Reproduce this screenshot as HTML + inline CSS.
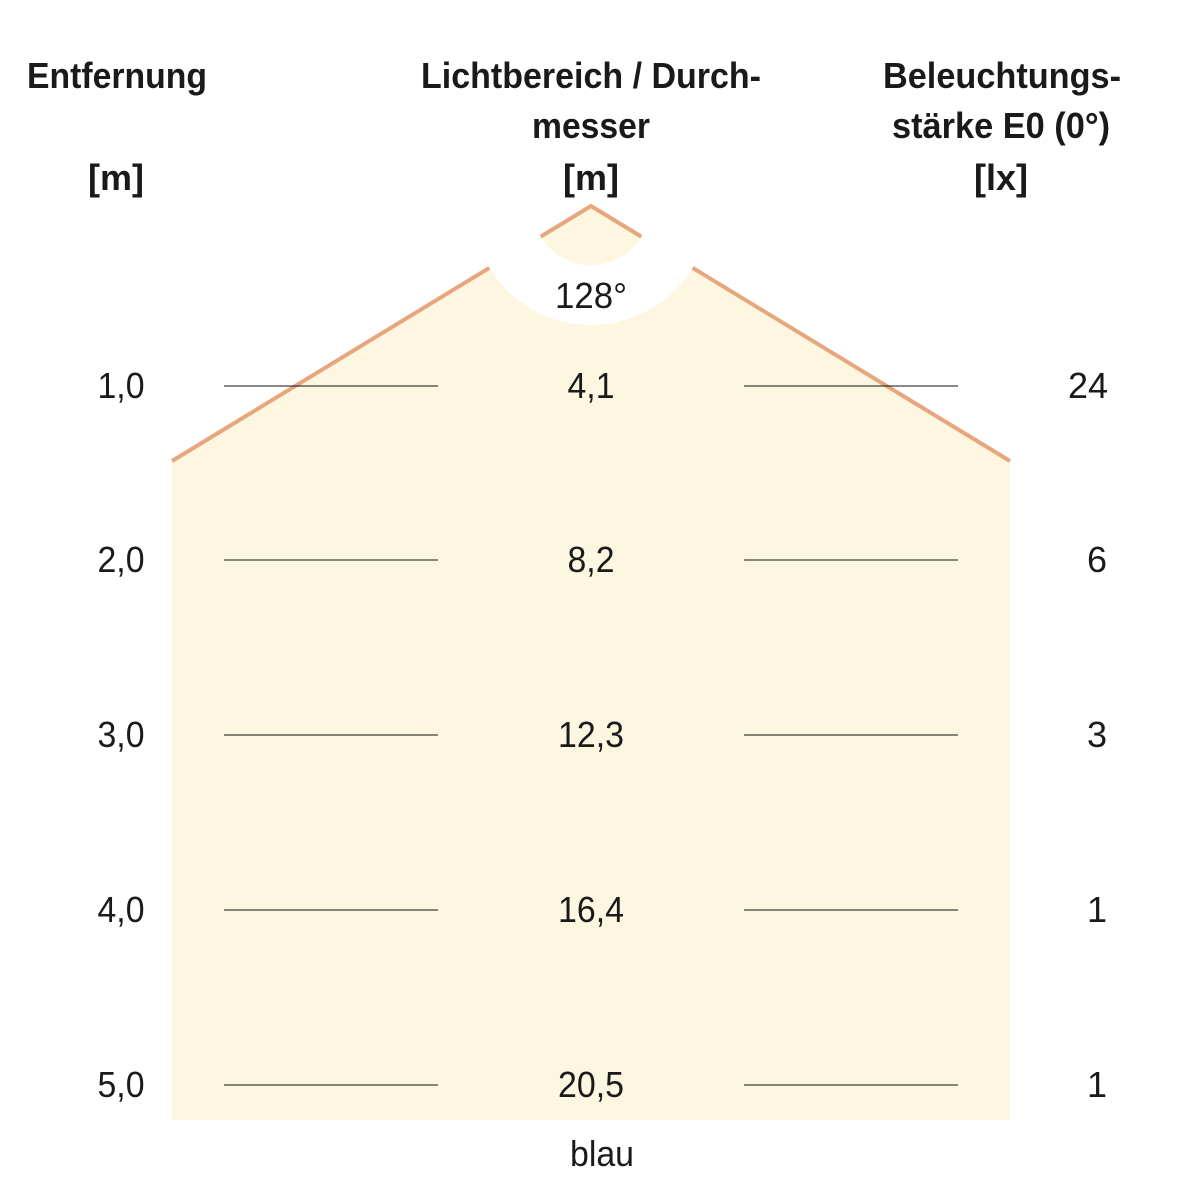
<!DOCTYPE html>
<html><head><style>
html,body{margin:0;padding:0;background:#fff;}
svg text{font-family:"Liberation Sans Narrow","Liberation Sans",sans-serif;fill:#1a1a1a;}
.h{font-weight:bold;font-size:36px;}
.n{font-size:36px;}
</style></head><body>
<svg width="1182" height="1182" viewBox="0 0 1182 1182" xmlns="http://www.w3.org/2000/svg">
<defs><mask id="m"><rect width="1182" height="1182" fill="#fff"/><path d="M591,206 m-119,0 a119,119 0 1,0 238,0 a119,119 0 1,0 -238,0 M591,206 m-59,0 a59,59 0 1,1 118,0 a59,59 0 1,1 -118,0Z" fill="#000" fill-rule="evenodd"/></mask></defs>
<g mask="url(#m)">
<polygon points="591,206 172,461 172,1120 1010,1120 1010,461" fill="#fdf6e0"/>
<polyline points="172,461 591,206 1010,461" fill="none" stroke="#e8a67e" stroke-width="4"/>
</g>
<g stroke="#111" stroke-width="1">
<line x1="224" y1="386" x2="438" y2="386"/><line x1="744" y1="386" x2="958" y2="386"/>
<line x1="224" y1="560" x2="438" y2="560"/><line x1="744" y1="560" x2="958" y2="560"/>
<line x1="224" y1="735" x2="438" y2="735"/><line x1="744" y1="735" x2="958" y2="735"/>
<line x1="224" y1="910" x2="438" y2="910"/><line x1="744" y1="910" x2="958" y2="910"/>
<line x1="224" y1="1085" x2="438" y2="1085"/><line x1="744" y1="1085" x2="958" y2="1085"/>
</g>
<text class="h" x="117" y="88" text-anchor="middle" textLength="180" lengthAdjust="spacingAndGlyphs">Entfernung</text>
<text class="h" x="116" y="190" text-anchor="middle">[m]</text>
<text class="h" x="591" y="88" text-anchor="middle" textLength="340" lengthAdjust="spacingAndGlyphs">Lichtbereich / Durch-</text>
<text class="h" x="591" y="138" text-anchor="middle" textLength="118" lengthAdjust="spacingAndGlyphs">messer</text>
<text class="h" x="591" y="190" text-anchor="middle">[m]</text>
<text class="h" x="1002" y="88" text-anchor="middle" textLength="238" lengthAdjust="spacingAndGlyphs">Beleuchtungs-</text>
<text class="h" x="1001" y="138" text-anchor="middle" textLength="218" lengthAdjust="spacingAndGlyphs">stärke E0 (0°)</text>
<text class="h" x="1001" y="190" text-anchor="middle">[lx]</text>
<text class="n" x="591" y="308" text-anchor="middle" textLength="72" lengthAdjust="spacingAndGlyphs">128°</text>
<text class="n" x="121" y="398" text-anchor="middle" textLength="47" lengthAdjust="spacingAndGlyphs">1,0</text><text class="n" x="591" y="398" text-anchor="middle" textLength="47" lengthAdjust="spacingAndGlyphs">4,1</text><text class="n" x="1088" y="398" text-anchor="middle">24</text>
<text class="n" x="121" y="572" text-anchor="middle" textLength="47" lengthAdjust="spacingAndGlyphs">2,0</text><text class="n" x="591" y="572" text-anchor="middle" textLength="47" lengthAdjust="spacingAndGlyphs">8,2</text><text class="n" x="1097" y="572" text-anchor="middle">6</text>
<text class="n" x="121" y="747" text-anchor="middle" textLength="47" lengthAdjust="spacingAndGlyphs">3,0</text><text class="n" x="591" y="747" text-anchor="middle" textLength="66" lengthAdjust="spacingAndGlyphs">12,3</text><text class="n" x="1097" y="747" text-anchor="middle">3</text>
<text class="n" x="121" y="922" text-anchor="middle" textLength="47" lengthAdjust="spacingAndGlyphs">4,0</text><text class="n" x="591" y="922" text-anchor="middle" textLength="66" lengthAdjust="spacingAndGlyphs">16,4</text><text class="n" x="1097" y="922" text-anchor="middle">1</text>
<text class="n" x="121" y="1097" text-anchor="middle" textLength="47" lengthAdjust="spacingAndGlyphs">5,0</text><text class="n" x="591" y="1097" text-anchor="middle" textLength="66" lengthAdjust="spacingAndGlyphs">20,5</text><text class="n" x="1097" y="1097" text-anchor="middle">1</text>
<text class="n" x="602" y="1166" text-anchor="middle" textLength="64" lengthAdjust="spacingAndGlyphs">blau</text>
</svg>
</body></html>
